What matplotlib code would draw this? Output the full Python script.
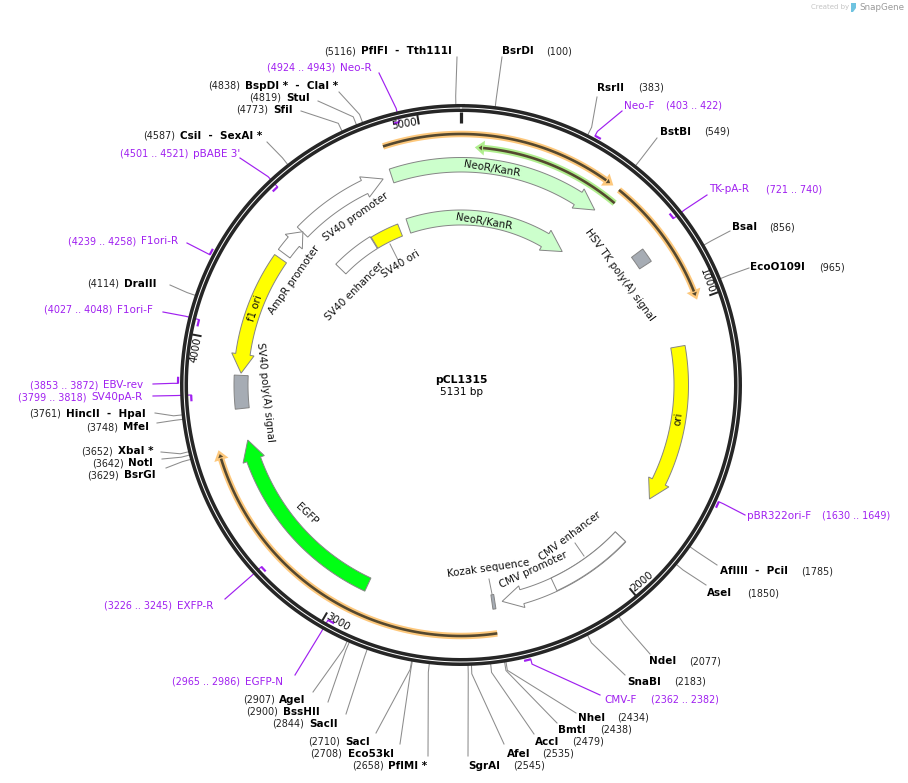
import numpy as np
import matplotlib
matplotlib.use("Agg")
import matplotlib.pyplot as plt
from matplotlib.patches import Polygon

plasmid_name = "pCL1315"
plasmid_size = 5131

# bp positions
tick_sites = [1000, 2000, 3000, 4000, 5000]

arrow_names = ["NeoR/KanR", "NeoR/KanR", "SV40 promoter", "AmpR promoter", "f1 ori", "EGFP", "ori", "CMV promoter"]
arrow_starts = [4869, 4870, 4475, 4370, 4347, 2922, 1140, 1904]
arrow_ends = [533, 530, 4836, 4477, 3892, 3642, 1727, 2412]

box_names = ["SV40 ori", "SV40 enhancer", "SV40 poly(A) signal", "HSV TK poly(A) signal", "Kozak sequence", "CMV enhancer"]
box_starts = [4685, 4475, 3761, 758, 2439, 1904]
box_ends = [4825, 4682, 3884, 812, 2450, 2209]

orange_starts = [4873, 556, 2447]
orange_ends = [526, 993, 3627]
green_start = 573
green_end = 54

enzyme_names = ["PflFI  -  Tth111I", "BsrDI", "RsrII", "BstBI", "BsaI", "EcoO109I", "AflIII  -  PciI", "AseI",
                "NdeI", "SnaBI", "NheI", "BmtI", "AccI", "AfeI", "SgrAI", "PflMI *", "Eco53kI", "SacI",
                "SacII", "BssHII", "AgeI", "BsrGI", "NotI", "XbaI *", "MfeI", "HincII  -  HpaI", "DraIII",
                "CsiI  -  SexAI *", "SfiI", "StuI", "BspDI *  -  ClaI *"]
enzyme_sites = [5116, 100, 383, 549, 856, 965, 1785, 1850, 2077, 2183, 2434, 2438, 2479, 2535, 2545, 2658,
                2708, 2710, 2844, 2900, 2907, 3629, 3642, 3652, 3748, 3761, 4114, 4587, 4773, 4819, 4838]

primer_names = ["Neo-F", "TK-pA-R", "pBR322ori-F", "CMV-F", "EXFP-R", "EGFP-N", "F1ori-R", "F1ori-F",
                "EBV-rev", "SV40pA-R", "pBABE 3'", "Neo-R"]
primer_starts = [403, 721, 1630, 2362, 3226, 2965, 4239, 4027, 3853, 3799, 4501, 4924]
primer_ends = [422, 740, 1649, 2382, 3245, 2986, 4258, 4048, 3872, 3818, 4521, 4943]
primer_forward = [True, False, True, True, False, False, True, False, True, False, False, False]

# layout below, in pixels of the 908x783 picture
CX, CY = 461, 385
PURPLE = "#a020f0"
GREY = "#8c8c8c"
DARK = "#262626"
EDGE = "#858585"
PX = 0.72  # px -> pt at dpi 100


def polar(bp, r):
    t = 2 * np.pi * np.asarray(bp, dtype=float) / plasmid_size
    return CX + r * np.sin(t), CY - r * np.cos(t)


def arc_pts(a, b, r, n=80):
    return polar(np.linspace(a, b, n), r)


def unwrap(start, end, forward):
    # bp values running monotonic from start to end
    if forward and end < start:
        end += plasmid_size
    if not forward and end > start:
        end -= plasmid_size
    return start, end


def draw_box(ax, a, b, r0, r1, fc):
    a, b = unwrap(a, b, True)
    x0, y0 = arc_pts(a, b, r0)
    x1, y1 = arc_pts(b, a, r1)
    pts = np.column_stack([np.r_[x0, x1], np.r_[y0, y1]])
    ax.add_patch(Polygon(pts, closed=True, fc=fc, ec=EDGE, lw=0.7, zorder=3))


def draw_arrow(ax, start, end, forward, r0, r1, fc, head=75, flare=4):
    a, b = unwrap(start, end, forward)
    neck = b - head if forward else b + head
    rm = (r0 + r1) / 2
    xa, ya = arc_pts(a, neck, r1)
    xb, yb = arc_pts(neck, a, r0)
    hx0, hy0 = polar(neck, r1 + flare)
    tx, ty = polar(b, rm)
    hx1, hy1 = polar(neck, r0 - flare)
    pts = np.column_stack([np.r_[xa, hx0, tx, hx1, xb], np.r_[ya, hy0, ty, hy1, yb]])
    ax.add_patch(Polygon(pts, closed=True, fc=fc, ec=EDGE, lw=0.7, zorder=3))


def draw_thin(ax, start, end, r, halo, forward, head=22):
    a, b = unwrap(start, end, forward)
    body = b - head if forward else b + head
    core = "#54482f"
    x, y = arc_pts(a, body, r)
    ax.plot(x, y, color=halo, lw=6.5 * PX, solid_capstyle="butt", zorder=2)
    xs, ys = polar([body, body, b], [r + 5, r - 5, r])
    ax.add_patch(Polygon(np.column_stack([xs, ys]), closed=True, fc=core, ec=halo, lw=2.4 * PX, zorder=2.1))
    ax.plot(x, y, color=core, lw=2.6 * PX, solid_capstyle="butt", zorder=2.2)


def map_text(x, y, text, rot):
    ax.text(x, y, text, rotation=rot, fontsize=10.3 * PX, ha="center", va="center",
            rotation_mode="anchor", color="#111111", zorder=5)


fig = plt.figure(figsize=(9.08, 7.83), dpi=100)
ax = fig.add_axes([0, 0, 1, 1])
ax.set_xlim(0, 908)
ax.set_ylim(783, 0)
ax.axis("off")

# enzyme leaders: where the line ends by the label; then name x, y and number x
enzyme_anchor = [(457, 57), (502, 57), (597, 97), (657, 138), (730, 231), (749, 268), (717, 565), (706, 585),
                 (650, 654), (625, 675), (576, 713), (557, 723), (534, 734), (504, 744), (468, 756), (428, 756),
                 (400, 744), (376, 733), (346, 714), (328, 702), (313, 692), (166, 468), (162, 459), (161, 452),
                 (157, 423), (155, 413), (170, 285), (267, 142), (301, 111), (318, 101), (339, 92)]
enzyme_text = [(361, 51, 324), (502, 51, 546), (597, 88, 638), (660, 132, 704), (732, 227, 769), (750, 267, 819),
               (720, 571, 801), (707, 593, 747), (649, 661, 689), (627, 682, 674), (578, 718, 617), (558, 730, 600),
               (535, 742, 572), (507, 754, 542), (468, 766, 513), (388, 766, 352), (348, 754, 310), (345, 742, 308),
               (309, 724, 272), (283, 712, 246), (279, 700, 243), (124, 475, 87), (128, 463, 92), (118, 451, 81),
               (123, 427, 86), (66, 414, 29), (124, 284, 87), (180, 136, 143), (273, 110, 236), (286, 98, 249),
               (245, 86, 208)]
for name, bp, (ex, ey), (tx, ty, nx) in zip(enzyme_names, enzyme_sites, enzyme_anchor, enzyme_text):
    x0, y0 = polar(bp, 279)
    x1, y1 = polar(bp, 289)
    ax.plot([x0, x1, ex], [y0, y1, ey], color=GREY, lw=0.75, zorder=1)
    ax.text(tx, ty, name, fontsize=10.4 * PX, fontweight="bold", color="black", va="center", ha="left")
    ax.text(nx, ty, "(%d)" % bp, fontsize=9.6 * PX, color="#222222", va="center", ha="left")

# primers
primer_anchor = [(622, 111), (707, 195), (745, 515), (600, 695), (225, 599), (295, 675), (187, 243), (163, 312),
                 (153, 384), (153, 396), (240, 158), (379, 73)]
primer_text = [(624, 106, 666), (709, 189, 766), (747, 516, 822), (604, 700, 651), (177, 606, 104), (245, 682, 172),
               (141, 241, 68), (117, 310, 44), (103, 385, 30), (91, 397, 18), (193, 154, 120), (340, 68, 267)]
for name, a, b, fwd, (ex, ey), (tx, ty, nx) in zip(primer_names, primer_starts, primer_ends, primer_forward,
                                                   primer_anchor, primer_text):
    r = 283 if fwd else 270
    x, y = arc_pts(a, b, r, 10)
    ax.plot(x, y, color=PURPLE, lw=1.6, zorder=4, solid_capstyle="butt")
    end = a if fwd else b
    x0, y0 = polar(end, r)
    x1, y1 = polar(end, 288 if fwd else 284)
    ax.plot([x0, x1, ex], [y0, y1, ey], color=PURPLE, lw=0.85, zorder=1)
    ax.text(tx, ty, name, fontsize=10.4 * PX, color=PURPLE, va="center", ha="left")
    ax.text(nx, ty, "(%d .. %d)" % (a, b), fontsize=9.6 * PX, color=PURPLE, va="center", ha="left")

# backbone, dark band with a thin white gap down the middle
t = np.linspace(0, plasmid_size, 720)
ax.plot(*polar(t, 277), color=DARK, lw=8.0 * PX, zorder=2)
ax.plot(*polar(t, 277), color="white", lw=1.0 * PX, zorder=2.05)

# scale ticks
for bp in tick_sites:
    x, y = polar([bp, bp], [273.5, 264])
    ax.plot(x, y, color=DARK, lw=2 * PX, zorder=2, solid_capstyle="butt")
    ang = 360 * bp / plasmid_size
    rot = 180 - ang if 90 < ang < 270 else -ang
    lx, ly = polar(bp - 3 / 360 * plasmid_size, 267)
    ax.text(lx, ly, str(bp), rotation=(rot + 180) % 360 - 180, fontsize=10.2 * PX, ha="center", va="center",
            rotation_mode="anchor", color="#111111", zorder=5)
x, y = polar([0, 0], [273.5, 262])
ax.plot(x, y, color=DARK, lw=3.2 * PX, zorder=2, solid_capstyle="butt")

# thin arcs with halo
for a, b in zip(orange_starts, orange_ends):
    draw_thin(ax, a, b, 251, "#fdc87c", True)
draw_thin(ax, green_start, green_end, 238, "#b0ee8e", False)

# feature arrows
styles = [(213, 227.5, "#ccffcc"), (160, 175, "#ccffcc"), (213, 227.5, "white"), (213, 227.5, "white"),
          (213, 227.5, "#ffff00"), (213, 227.5, "#00ff14"), (213, 227.5, "#ffff00"), (213, 227.5, "white")]
heads = [75, 100, 75, 50, 70, 75, 72, 75]
arrow_forward = [True, True, True, True, False, True, True, True]
for a, b, fwd, head, (r0, r1, fc) in zip(arrow_starts, arrow_ends, arrow_forward, heads, styles):
    draw_arrow(ax, a, b, fwd, r0, r1, fc, head=head)
box_styles = [(160, 173, "#ffff00"), (160, 174, "white"), (213, 227, "#a6acb4"), (213, 227, "#a6acb4"),
              (212, 226.5, "#a6acb4"), (213, 227, "white")]
for a, b, (r0, r1, fc) in zip(box_starts, box_ends, box_styles):
    draw_box(ax, a, b, r0, r1, fc)

# texts along features
map_text(492, 169, "NeoR/KanR", -9.5)
map_text(484, 222, "NeoR/KanR", -9.5)
map_text(356, 217, "SV40 promoter", 35)
map_text(294, 280, "AmpR promoter", 55)
map_text(355, 291, "SV40 enhancer", 45)
map_text(401, 264, "SV40 ori", 32)
map_text(255, 308, "f1 ori", 72)
map_text(265, 392, "SV40 poly(A) signal", -84)
map_text(307, 514, "EGFP", -44)
map_text(620, 275, "HSV TK poly(A) signal", -54)
map_text(678, 419, "ori", 82)
map_text(570, 536, "CMV enhancer", 37)
map_text(533, 570, "CMV promoter", 25)
map_text(488, 568, "Kozak sequence", 8)

# short leaders from labels to features
ax.plot([390, 398], [244, 260], color=GREY, lw=0.7, zorder=1)
ax.plot([575, 584], [543, 556], color=GREY, lw=0.7, zorder=1)
ax.plot([489, 492], [579, 594], color=GREY, lw=0.7, zorder=1)

# centre label
ax.text(461, 380, plasmid_name, fontsize=10.8 * PX, fontweight="bold", ha="center", va="center")
ax.text(461, 392, "%d bp" % plasmid_size, fontsize=10.4 * PX, ha="center", va="center")

# watermark
ax.text(811, 7, "Created by", fontsize=7 * PX, color="#c4c4c4", ha="left", va="center")
ax.text(859, 7, "SnapGene", fontsize=8.8 * PX, color="#9a9a9a", ha="left", va="center")
ax.add_patch(Polygon([(851, 3), (856, 3), (856, 8), (853, 12), (851, 12)], closed=True, fc="#6fc3e0", ec="none"))

fig.savefig("out.png", dpi=100)
